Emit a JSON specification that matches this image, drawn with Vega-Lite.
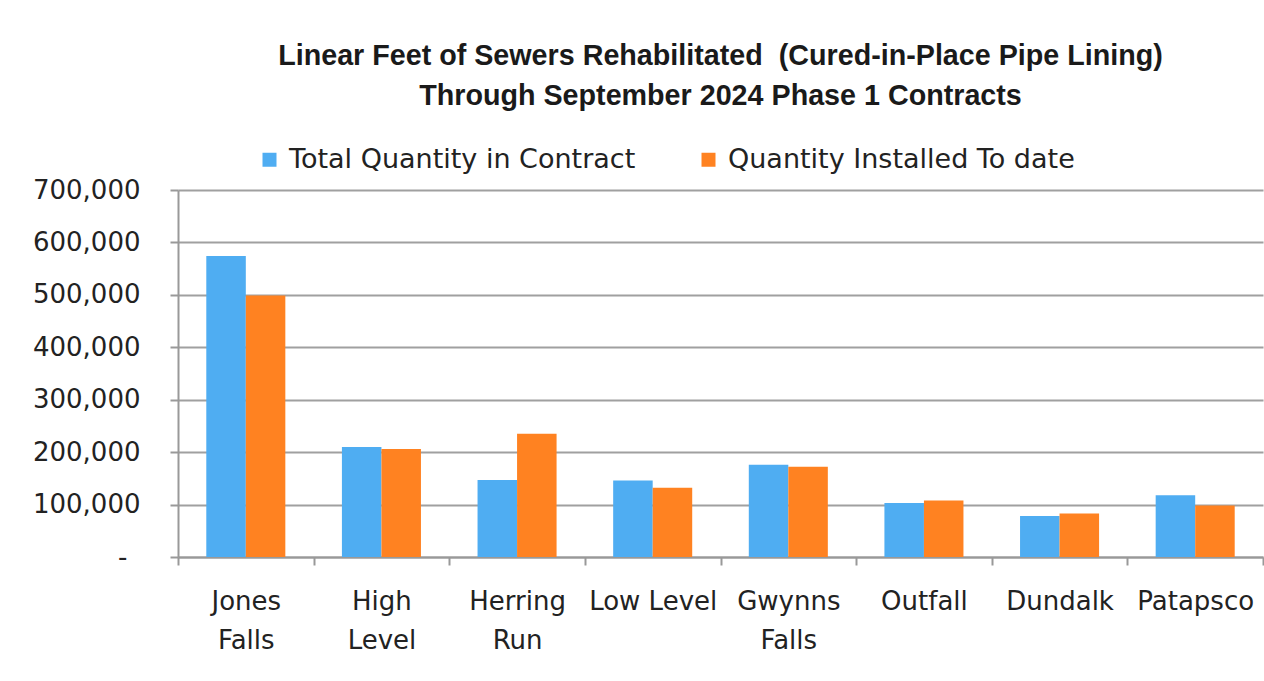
{
  "$schema": "https://vega.github.io/schema/vega-lite/v6.json",
  "width": 1085,
  "height": 367,
  "autosize": {"type": "none"},
  "padding": {"left": 178, "top": 190, "right": 1, "bottom": 124},
  "background": "white",
  "title": {
    "text": ["Linear Feet of Sewers Rehabilitated\u00a0 (Cured-in-Place Pipe Lining)", "Through September 2024 Phase 1 Contracts"],
    "font": "Liberation Sans",
    "fontSize": 28.7,
    "fontWeight": "bold",
    "color": "#1a1a1a",
    "lineHeight": 40,
    "anchor": "middle",
    "frame": "group",
    "offset": 35
  },
  "data": {
    "values": [
      {"sewershed": "Jones Falls", "series": "Total Quantity in Contract", "feet": 574000},
      {"sewershed": "Jones Falls", "series": "Quantity Installed To date", "feet": 499000},
      {"sewershed": "High Level", "series": "Total Quantity in Contract", "feet": 210000},
      {"sewershed": "High Level", "series": "Quantity Installed To date", "feet": 206000},
      {"sewershed": "Herring Run", "series": "Total Quantity in Contract", "feet": 147000},
      {"sewershed": "Herring Run", "series": "Quantity Installed To date", "feet": 235000},
      {"sewershed": "Low Level", "series": "Total Quantity in Contract", "feet": 146000},
      {"sewershed": "Low Level", "series": "Quantity Installed To date", "feet": 132000},
      {"sewershed": "Gwynns Falls", "series": "Total Quantity in Contract", "feet": 176000},
      {"sewershed": "Gwynns Falls", "series": "Quantity Installed To date", "feet": 172000},
      {"sewershed": "Outfall", "series": "Total Quantity in Contract", "feet": 103000},
      {"sewershed": "Outfall", "series": "Quantity Installed To date", "feet": 108000},
      {"sewershed": "Dundalk", "series": "Total Quantity in Contract", "feet": 78000},
      {"sewershed": "Dundalk", "series": "Quantity Installed To date", "feet": 83000},
      {"sewershed": "Patapsco", "series": "Total Quantity in Contract", "feet": 118000},
      {"sewershed": "Patapsco", "series": "Quantity Installed To date", "feet": 98000}
    ]
  },
  "mark": {"type": "bar"},
  "encoding": {
    "x": {
      "field": "sewershed",
      "type": "nominal",
      "sort": null,
      "scale": {"paddingInner": 0, "paddingOuter": 0},
      "axis": {
        "title": null,
        "labelAngle": 0,
        "tickBand": "extent",
        "grid": false,
        "labelExpr": "datum.label == 'Low Level' ? datum.label : split(datum.label, ' ')",
        "labelFont": "DejaVu Sans",
        "labelFontSize": 26,
        "labelColor": "#222222",
        "labelBaseline": "top",
        "labelPadding": 23,
        "labelLineHeight": 39,
        "labelLimit": 300,
        "tickSize": 8,
        "tickColor": "#999999",
        "tickWidth": 2,
        "domainColor": "#999999",
        "domainWidth": 2
      }
    },
    "xOffset": {
      "field": "series",
      "type": "nominal",
      "sort": ["Total Quantity in Contract", "Quantity Installed To date"],
      "scale": {"paddingInner": 0, "paddingOuter": 0.716}
    },
    "y": {
      "field": "feet",
      "type": "quantitative",
      "scale": {"domain": [0, 700000], "nice": false},
      "axis": {
        "title": null,
        "values": [0, 100000, 200000, 300000, 400000, 500000, 600000, 700000],
        "labelExpr": "datum.value == 0 ? '-' : format(datum.value, ',')",
        "labelFont": "DejaVu Sans",
        "labelFontSize": 26,
        "labelColor": "#222222",
        "labelPadding": {"condition": {"test": "datum.value == 0", "value": 43}, "value": 30},
        "tickSize": 8,
        "tickColor": "#999999",
        "tickWidth": 2,
        "domainColor": "#999999",
        "domainWidth": 2,
        "gridColor": "#a0a0a0",
        "gridWidth": 2
      }
    },
    "color": {
      "field": "series",
      "type": "nominal",
      "sort": ["Total Quantity in Contract", "Quantity Installed To date"],
      "scale": {
        "domain": ["Total Quantity in Contract", "Quantity Installed To date"],
        "range": ["#4FADF2", "#FF8221"]
      },
      "legend": {
        "title": null,
        "orient": "none",
        "direction": "horizontal",
        "legendX": 78,
        "legendY": -44,
        "padding": 0,
        "symbolType": "square",
        "symbolSize": 196,
        "symbolStrokeWidth": 0,
        "labelFont": "DejaVu Sans",
        "labelFontSize": 27,
        "labelColor": "#222222",
        "labelOffset": 6,
        "labelLimit": 500,
        "columnPadding": 59
      }
    }
  },
  "config": {"view": {"stroke": null}}
}
